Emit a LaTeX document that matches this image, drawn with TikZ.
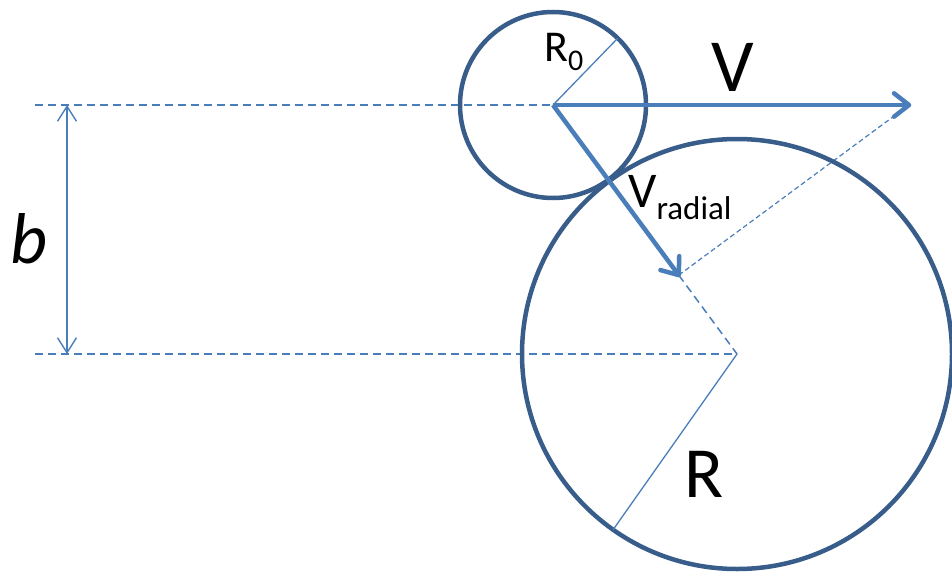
\documentclass[tikz,border=0pt]{standalone}
\usepackage{fontspec}
\setmainfont{Carlito}
\usetikzlibrary{arrows.meta,calc}
\definecolor{circblue}{RGB}{56,93,138}
\definecolor{lineblue}{RGB}{74,126,187}
\tikzset{
  guide/.style={draw=lineblue,line width=1.5pt,dash pattern=on 8pt off 5pt},
  fineguide/.style={draw=lineblue,line width=1.2pt,dash pattern=on 5pt off 3pt},
  ball/.style={draw=circblue,line width=4.5pt},
  radius line/.style={draw=lineblue,line width=1.3pt},
  vec/.style={draw=lineblue,line width=4.5pt},
  barb/.style={draw=lineblue,line width=4.5pt,line cap=round,line join=round},
  dimarrow/.style={draw=lineblue,line width=1.4pt,{Straight Barb[length=15pt,width=19pt]}-{Straight Barb[length=15pt,width=19pt]}},
  lbl/.style={inner sep=0pt,anchor=base west,text=black}
}
\begin{document}
\begin{tikzpicture}[x=1pt,y=-1pt]
\useasboundingbox (0,0) rectangle (952,575);
\coordinate (c0) at (553,105);
\coordinate (c1) at (737,354);
\coordinate (vtip) at (909,105);
\coordinate (vr) at ($(c0)!(vtip)!(c1)$);
\coordinate (l0) at (35,105);
\coordinate (l1) at (35,354);
\coordinate (da) at (67,105);
\coordinate (db) at (67,354);
\coordinate (r0end) at ($(c0)!93pt!(617,39)$);
\coordinate (rend) at ($(c1)!215pt!(615,527)$);
\coordinate (va) at ($(vtip)!19pt!38:(c0)$);
\coordinate (vb) at ($(vtip)!19pt!-38:(c0)$);
\coordinate (ra) at ($(vr)!19pt!38:(c0)$);
\coordinate (rb) at ($(vr)!19pt!-38:(c0)$);
% guides
\draw[guide] (l0) -- (c0);
\draw[guide] (l1) -- (c1);
\draw[fineguide] (vr) -- (vtip);
\draw[guide] (vr) -- (c1);
% dimension
\draw[dimarrow] (da) -- (db);
% circles
\draw[ball] (c0) circle[radius=93];
\draw[ball] (c1) circle[radius=215];
% radii
\draw[radius line] (c0) -- (r0end);
\draw[radius line] (c1) -- (rend);
% vectors
\draw[vec] (c0) -- (vtip);
\draw[barb] (va) -- (vtip) -- (vb);
\draw[vec] (c0) -- (vr);
\draw[barb] (ra) -- (vr) -- (rb);
% labels
\node[lbl,font=\fontsize{75}{75}\selectfont] (tV) at (711,92) {V};
\node[lbl,font=\fontsize{72}{72}\selectfont] (tR) at (684,497) {R};
\node[lbl,font=\fontsize{44}{44}\selectfont] (tR0) at (544,62) {R\raisebox{-9pt}{\fontsize{30}{30}\selectfont 0}};
\node[lbl,font=\fontsize{50}{50}\selectfont] (tVr) at (628,207) {V\raisebox{-12pt}{\fontsize{33}{33}\selectfont radial}};
\node[lbl,font=\fontsize{72}{72}\selectfont\itshape] (tb) at (10,263) {b};
\end{tikzpicture}
\end{document}
